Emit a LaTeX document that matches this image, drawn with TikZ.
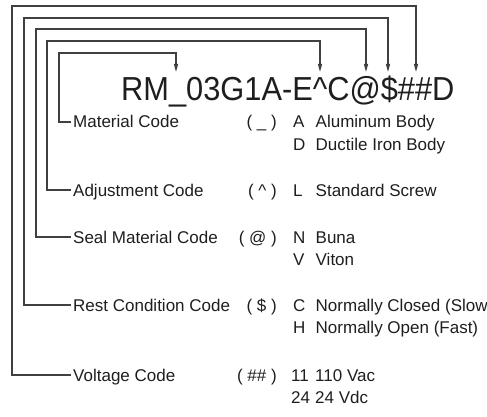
\documentclass[tikz,border=0pt]{standalone}
\usepackage{fontspec}
\setmainfont{Liberation Sans}
\usetikzlibrary{arrows.meta}
\definecolor{txt}{HTML}{1E1E1E}
\definecolor{ln}{HTML}{404040}
\begin{document}
\begin{tikzpicture}[x=1pt,y=-1pt,
  lbl/.style={anchor=west,inner xsep=2.5pt,inner ysep=0pt,text height=12pt,text depth=0pt,font=\fontsize{17}{20}\selectfont,text=txt},
  val/.style={lbl,inner xsep=0pt},
  par/.style={lbl,anchor=east,inner xsep=0pt},
  conn/.style={draw=ln,line width=1.2pt,-{Triangle[width=4pt,length=8pt]}}
]
\useasboundingbox (0,0) rectangle (487,417);
\node[anchor=base west,inner sep=0pt,font=\fontsize{30.8}{36}\selectfont,text=txt] (code) at (121,100.5) {\scalebox{1}[1.08]{RM\_03G1A-E\textasciicircum C@\$\#\#D}};
\coordinate (t1) at (176,72);
\coordinate (t2) at (320,72);
\coordinate (t3) at (366,72);
\coordinate (t4) at (388,72);
\coordinate (t5) at (416,72);
\coordinate (c1) at (59,53);
\coordinate (c2) at (47,41);
\coordinate (c3) at (36,29);
\coordinate (c4) at (24,18);
\coordinate (c5) at (12,6);
% labels
\node[lbl] (m) at (70.5,122) {Material Code};
\node[lbl] (a) at (70.5,190) {Adjustment Code};
\node[lbl] (s) at (70.5,237) {Seal Material Code};
\node[lbl] (r) at (70.5,305) {Rest Condition Code};
\node[lbl] (v) at (70.5,375) {Voltage Code};
% connectors
\draw[conn] (m.west) -| (c1) -| (t1);
\draw[conn] (a.west) -| (c2) -| (t2);
\draw[conn] (s.west) -| (c3) -| (t3);
\draw[conn] (r.west) -| (c4) -| (t4);
\draw[conn] (v.west) -| (c5) -| (t5);
% parens
\node[par] (pm) at (277,122) {( \_ )};
\node[par] (pa) at (277,190) {( \textasciicircum\ )};
\node[par] (ps) at (277,237) {( @ )};
\node[par] (pr) at (277,305) {( \$ )};
\node[par] (pv) at (277,375) {( \#\# )};
% codes
\node[val] (k1) at (293,122) {A};
\node[val] (k2) at (293,144) {D};
\node[val] (k3) at (293,190) {L};
\node[val] (k4) at (293,237) {N};
\node[val] (k5) at (293,259) {V};
\node[val] (k6) at (293,305) {C};
\node[val] (k7) at (293,327) {H};
\node[val] (k8) at (291,375) {11};
\node[val] (k9) at (291,397) {24};
% descriptions
\node[val] (d1) at (315.5,122) {Aluminum Body};
\node[val] (d2) at (315.5,144) {Ductile Iron Body};
\node[val] (d3) at (315.5,190) {Standard Screw};
\node[val] (d4) at (315.5,237) {Buna};
\node[val] (d5) at (315.5,259) {Viton};
\node[val] (d6) at (315.5,305) {Normally Closed (Slow};
\node[val] (d7) at (315.5,327) {Normally Open (Fast)};
\node[val] (d8) at (315,375) {110 Vac};
\node[val] (d9) at (315,397) {24 Vdc};
\end{tikzpicture}
\end{document}
